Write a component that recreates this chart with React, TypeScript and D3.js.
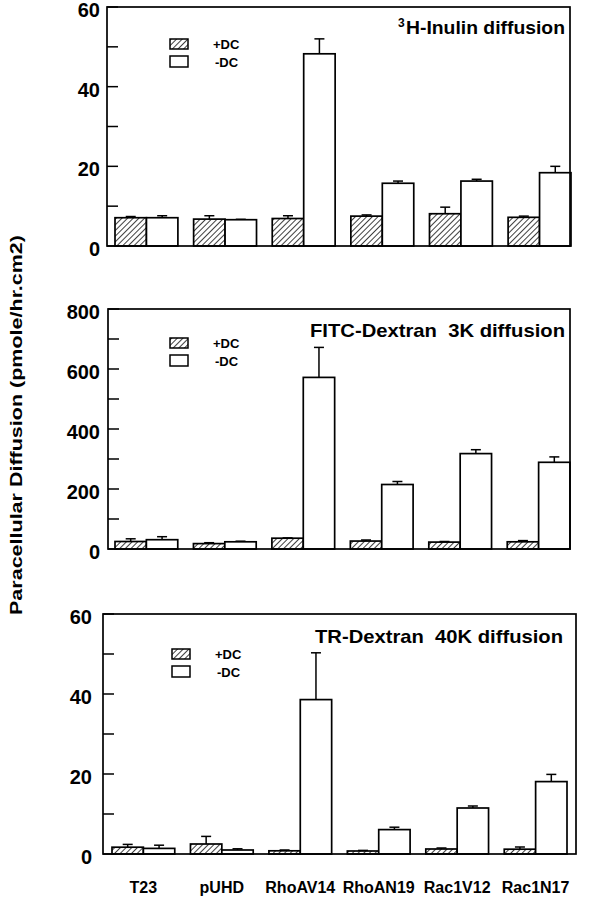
import React from 'react'
import * as d3 from 'd3'

const categories = ['T23', 'pUHD', 'RhoAV14', 'RhoAN19', 'Rac1V12', 'Rac1N17']
const series = ['+DC', '-DC']

// 3H-Inulin (values and error above bar)
const inulinPlus = [7.1, 6.75, 6.9, 7.5, 8.1, 7.2]
const inulinPlusErr = [0.3, 0.85, 0.7, 0.3, 1.65, 0.3]
const inulinMinus = [7.1, 6.6, 48.25, 15.75, 16.3, 18.4]
const inulinMinusErr = [0.5, 0.1, 3.75, 0.55, 0.45, 1.6]

// FITC-Dextran 3K
const fitcPlus = [25, 18, 36, 26.5, 23, 24]
const fitcPlusErr = [9, 3, 1, 3.5, 2, 4]
const fitcMinus = [31, 24, 572, 215, 318, 289]
const fitcMinusErr = [10, 2, 100, 10, 13, 18]

// TR-Dextran 40K
const trPlus = [1.7, 2.5, 0.8, 0.75, 1.25, 1.2]
const trPlusErr = [0.7, 1.9, 0.2, 0.15, 0.25, 0.55]
const trMinus = [1.4, 1.0, 38.6, 6.1, 11.5, 18.1]
const trMinusErr = [0.8, 0.3, 11.7, 0.6, 0.5, 1.8]

const inulinTicks = [0, 20, 40, 60]
const fitcTicks = [0, 200, 400, 600, 800]
const trTicks = [0, 20, 40, 60]

const font = 'Arial, "Liberation Sans", Helvetica, sans-serif'

type PanelProps = {
  plus: number[]
  plusErr: number[]
  minus: number[]
  minusErr: number[]
  ticks: number[]
  title: React.ReactNode
  frame: { left: number; right: number; top: number; bottom: number }
  barRange: [number, number]
  legend: { x: number; y: number }
  labelGap: number
  showX: boolean
}

function Panel(p: PanelProps) {
  let { frame } = p
  let ymax = p.ticks[p.ticks.length - 1]
  let step = p.ticks[1] - p.ticks[0]
  let y = d3.scaleLinear().domain([0, ymax]).range([frame.bottom, frame.top])
  let x0 = d3.scaleBand().domain(categories).range(p.barRange).paddingInner(0.2)
  let x1 = d3.scaleBand().domain(series).range([0, x0.bandwidth()])
  let minor = d3.range(step / 2, ymax, step)

  let bars: React.ReactNode[] = []
  categories.forEach((c, i) => {
    let vals = [p.plus[i], p.minus[i]]
    let errs = [p.plusErr[i], p.minusErr[i]]
    series.forEach((s, j) => {
      let bx = (x0(c) || 0) + (x1(s) || 0)
      let w = x1.bandwidth()
      let top = y(vals[j])
      let et = y(vals[j] + errs[j])
      let cx = bx + w / 2
      bars.push(
        <g key={c + s}>
          <line x1={cx} x2={cx} y1={top} y2={et} stroke="#000" strokeWidth={1.5} />
          <line x1={cx - 5} x2={cx + 5} y1={et} y2={et} stroke="#000" strokeWidth={1.5} />
          <rect x={bx} y={top} width={w} height={frame.bottom - top}
            fill={j === 0 ? 'url(#hatch)' : '#fff'} stroke="#000" strokeWidth={1.7} />
        </g>
      )
    })
  })

  return (
    <g>
      {bars}
      <rect x={frame.left} y={frame.top} width={frame.right - frame.left}
        height={frame.bottom - frame.top} fill="none" stroke="#000" strokeWidth={1.7} />
      {p.ticks.concat(minor).map(t => (
        <line key={'t' + t} x1={frame.left} x2={frame.left + 11} y1={y(t)} y2={y(t)}
          stroke="#000" strokeWidth={1.5} />
      ))}
      {p.ticks.map(t => (
        <text key={'l' + t} x={frame.left - p.labelGap} y={y(t) + 10} textAnchor="end"
          fontSize={20} fontWeight="bold" fontFamily={font}>{t}</text>
      ))}
      {p.title}
      <rect x={p.legend.x} y={p.legend.y} width={18} height={10} fill="url(#hatch)"
        stroke="#000" strokeWidth={1.5} />
      <rect x={p.legend.x} y={p.legend.y + 17} width={18} height={11} fill="#fff"
        stroke="#000" strokeWidth={1.5} />
      <text x={p.legend.x + 43} y={p.legend.y + 10} fontSize={13} fontWeight="bold"
        fontFamily={font}>{series[0]}</text>
      <text x={p.legend.x + 45} y={p.legend.y + 28} fontSize={13} fontWeight="bold"
        fontFamily={font}>{series[1]}</text>
      {p.showX && categories.map(c => (
        <text key={'x' + c} x={(x0(c) || 0) + x0.bandwidth() / 2} y={893} textAnchor="middle"
          fontSize={16} fontWeight="bold" fontFamily={font}>{c}</text>
      ))}
    </g>
  )
}

export default function App() {
  return (
    <div style={{ position: 'absolute', left: 0, top: 0 }}>
      <svg width={602} height={900} style={{ display: 'block', background: '#fff' }}>
        <defs>
          <pattern id="hatch" patternUnits="userSpaceOnUse" width={4} height={4}
            patternTransform="rotate(45)">
            <rect width={4} height={4} fill="#fff" />
            <line x1={0} y1={0} x2={0} y2={4} stroke="#000" strokeWidth={1.5} />
          </pattern>
        </defs>
        <text transform="translate(22,425) rotate(-90)" textAnchor="middle" fontSize={17}
          fontWeight="bold" fontFamily={font} textLength={380}
          lengthAdjust="spacingAndGlyphs">Paracellular Diffusion (pmole/hr.cm2)</text>

        <Panel plus={inulinPlus} plusErr={inulinPlusErr} minus={inulinMinus}
          minusErr={inulinMinusErr} ticks={inulinTicks}
          frame={{ left: 107, right: 570, top: 7, bottom: 246 }} barRange={[115, 571]}
          legend={{ x: 170, y: 39 }} labelGap={7} showX={false}
          title={
            <g>
              <text x={398} y={27} fontSize={12} fontWeight="bold" fontFamily={font}>3</text>
              <text x={406} y={34} fontSize={19} fontWeight="bold" fontFamily={font}
                textLength={159} lengthAdjust="spacingAndGlyphs">H-Inulin diffusion</text>
            </g>
          } />

        <Panel plus={fitcPlus} plusErr={fitcPlusErr} minus={fitcMinus}
          minusErr={fitcMinusErr} ticks={fitcTicks}
          frame={{ left: 108, right: 570, top: 309, bottom: 549 }} barRange={[115, 570]}
          legend={{ x: 170, y: 338 }} labelGap={8} showX={false}
          title={
            <text x={310} y={337} fontSize={19} fontWeight="bold" fontFamily={font}
              textLength={255} lengthAdjust="spacingAndGlyphs"
              xmlSpace="preserve">FITC-Dextran  3K diffusion</text>
          } />

        <Panel plus={trPlus} plusErr={trPlusErr} minus={trMinus}
          minusErr={trMinusErr} ticks={trTicks}
          frame={{ left: 103, right: 576, top: 614, bottom: 854 }} barRange={[112, 567]}
          legend={{ x: 172, y: 649 }} labelGap={11} showX={true}
          title={
            <text x={315} y={643} fontSize={19} fontWeight="bold" fontFamily={font}
              textLength={248} lengthAdjust="spacingAndGlyphs"
              xmlSpace="preserve">TR-Dextran  40K diffusion</text>
          } />
      </svg>
    </div>
  )
}
